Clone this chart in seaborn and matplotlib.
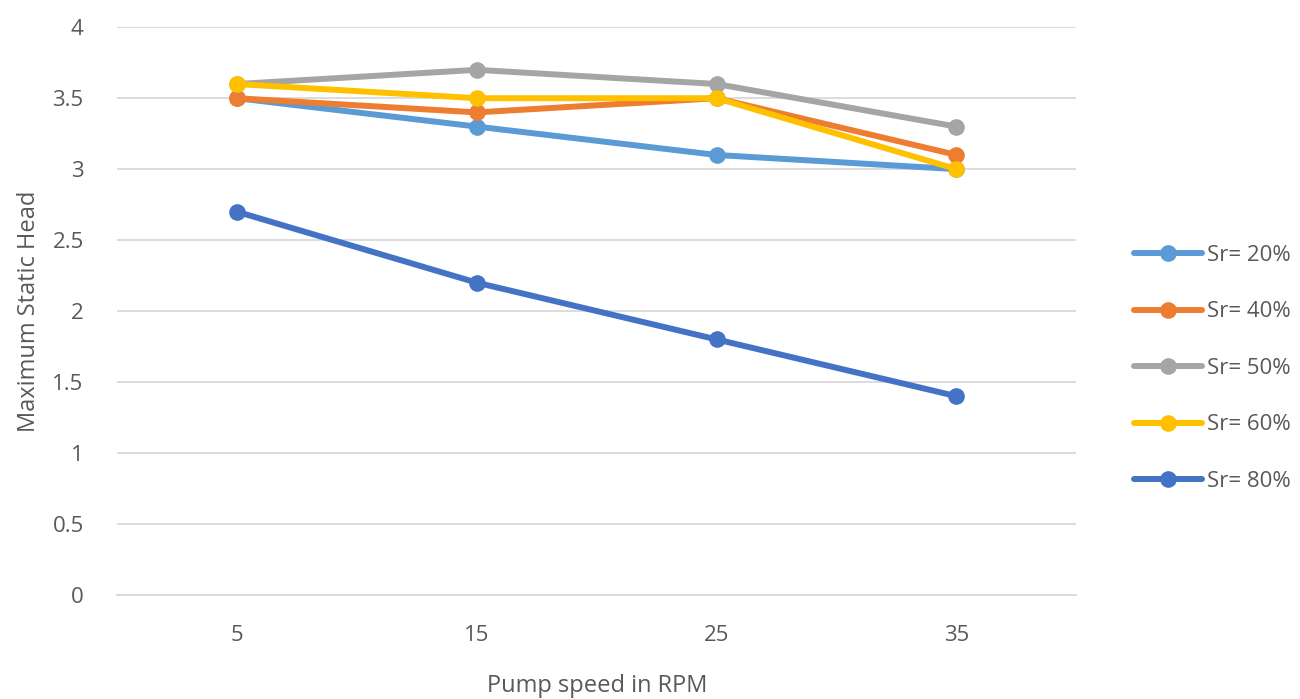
import matplotlib
matplotlib.use("Agg")
import matplotlib.pyplot as plt
import seaborn as sns
import pandas as pd

# Pump speed (RPM) and maximum static head for each Sr level
speeds = [5, 15, 25, 35]
series_names = ["Sr= 20%", "Sr= 40%", "Sr= 50%", "Sr= 60%", "Sr= 80%"]
sr20 = [3.5, 3.3, 3.1, 3.0]
sr40 = [3.5, 3.4, 3.5, 3.1]
sr50 = [3.6, 3.7, 3.6, 3.3]
sr60 = [3.6, 3.5, 3.5, 3.0]
sr80 = [2.7, 2.2, 1.8, 1.4]
y_ticks = [0, 0.5, 1, 1.5, 2, 2.5, 3, 3.5, 4]
y_tick_labels = ["0", "0.5", "1", "1.5", "2", "2.5", "3", "3.5", "4"]

colors = ["#5B9BD5", "#ED7D31", "#A5A5A5", "#FFC000", "#4472C4"]

rows = []
for name, vals in zip(series_names, [sr20, sr40, sr50, sr60, sr80]):
    for s, v in zip(speeds, vals):
        rows.append({"speed": s, "head": v, "series": name})
df = pd.DataFrame(rows)

sns.set_theme(style="white")
plt.rcParams["font.family"] = ["Open Sans", "DejaVu Sans"]

fig = plt.figure(figsize=(13, 6.99), dpi=100)
ax = fig.add_axes([0.09, 0.149, 0.738, 0.812])

sns.lineplot(data=df, x="speed", y="head", hue="series", hue_order=series_names,
             palette=colors, marker="o", markersize=12, markeredgewidth=0,
             linewidth=4.3, ax=ax, legend=True)

ax.set_xlim(0, 40)
ax.set_ylim(0, 4)
ax.set_xticks(speeds)
ax.set_xticklabels([str(s) for s in speeds])
ax.set_yticks(y_ticks)
ax.set_yticklabels(y_tick_labels)
ax.yaxis.grid(True, color="#D9D9D9", linewidth=1.3)
ax.xaxis.grid(False)
ax.set_axisbelow(True)
for side in ["top", "right", "left"]:
    ax.spines[side].set_visible(False)
ax.spines["bottom"].set_color("#D9D9D9")
ax.spines["bottom"].set_linewidth(1.3)
ax.tick_params(axis="both", length=0, labelsize=16, labelcolor="#595959")
ax.tick_params(axis="y", pad=24)
ax.tick_params(axis="x", pad=22)

ax.set_xlabel("Pump speed in RPM", fontsize=17, color="#595959", labelpad=20)
ax.set_ylabel("Maximum Static Head", fontsize=17, color="#595959", labelpad=8)

handles, labels = ax.get_legend_handles_labels()
ax.get_legend().remove()
for h in handles:
    h.set_linewidth(4.3)
    h.set_markersize(12)
fig.legend(handles, labels, loc="center left", bbox_to_anchor=(0.864, 0.473),
           frameon=False, fontsize=16, labelcolor="#595959",
           handlelength=3.05, handletextpad=0.2, labelspacing=1.6, borderpad=0)

fig.savefig("out.png", dpi=100)
